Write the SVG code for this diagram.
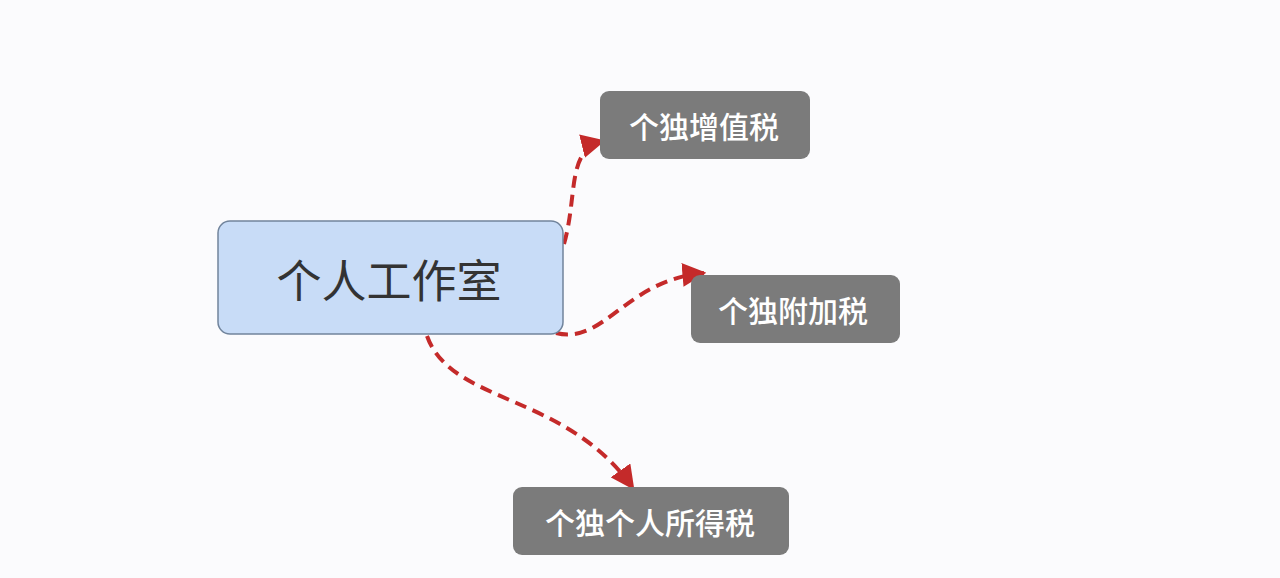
<svg xmlns="http://www.w3.org/2000/svg" width="1280" height="578" viewBox="0 0 1280 578">
<style>
.main{fill:#c8dcf7;stroke:#71849c;stroke-width:1.5}
.leaf{fill:#7b7b7b}
.t-main{font-family:"Noto Sans CJK SC","Noto Sans",sans-serif;font-size:45px;fill:#333;text-anchor:middle;dominant-baseline:central}
.t-leaf{font-family:"Noto Sans CJK SC","Noto Sans",sans-serif;font-size:30px;font-weight:500;fill:#fff;text-anchor:middle;dominant-baseline:central}
.edge{fill:none;stroke:#c42a2a;stroke-width:4;stroke-dasharray:12 7}
</style>
<defs>
<marker id="arr" viewBox="0 0 10 10" refX="9" refY="5" markerWidth="6" markerHeight="6" orient="auto" markerUnits="strokeWidth">
<path d="M0,0 L10,5 L0,10 z" fill="#c42a2a"/>
</marker>
</defs>
<rect width="1280" height="578" fill="#fbfbfd"/>
<g id="edges">
<path class="edge" d="M564,244 C578,195 566,150 603,141" marker-end="url(#arr)"/>
<path class="edge" d="M556,333 C605,345 625,280 704,273" marker-end="url(#arr)"/>
<path class="edge" d="M427,336 C452,405 565,392 633,488" marker-end="url(#arr)"/>
</g>
<g id="node-main">
<rect class="main" x="218" y="221" width="345" height="113" rx="12"/>
<text class="t-main" x="389" y="278">个人工作室</text>
</g>
<g id="node-vat">
<rect class="leaf" x="600" y="91" width="210" height="68" rx="9"/>
<text class="t-leaf" x="704" y="125">个独增值税</text>
</g>
<g id="node-surtax">
<rect class="leaf" x="691" y="275" width="209" height="68" rx="9"/>
<text class="t-leaf" x="793" y="309">个独附加税</text>
</g>
<g id="node-iit">
<rect class="leaf" x="513" y="487" width="276" height="68" rx="9"/>
<text class="t-leaf" x="650" y="521">个独个人所得税</text>
</g>
</svg>
